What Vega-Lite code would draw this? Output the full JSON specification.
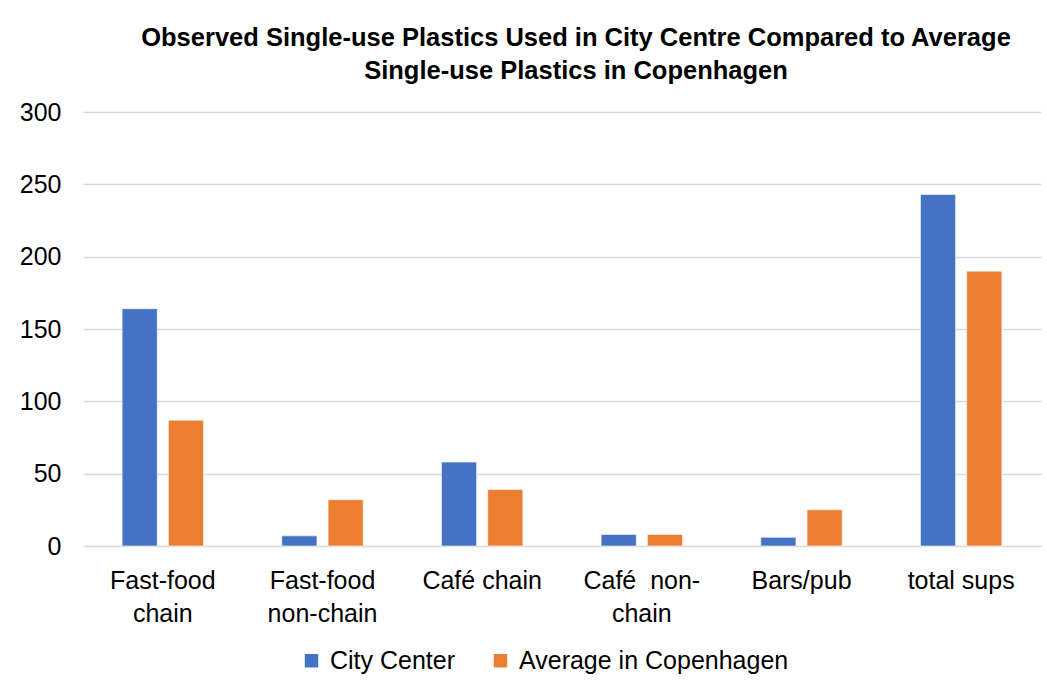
{
  "$schema": "https://vega.github.io/schema/vega-lite/v6.json",
  "width": 958,
  "height": 434,
  "autosize": {"type": "none"},
  "padding": {"left": 83, "top": 112, "right": 6, "bottom": 145},
  "background": "white",
  "title": {
    "text": [
      "Observed Single-use Plastics Used in City Centre Compared to Average",
      "Single-use Plastics in Copenhagen"
    ],
    "font": "Liberation Sans",
    "fontSize": 25.5,
    "fontWeight": "bold",
    "color": "#000000",
    "anchor": "middle",
    "lineHeight": 33,
    "offset": 16,
    "dx": 14
  },
  "data": {
    "values": [
      {"category": "Fast-food chain", "series": "City Center", "value": 164},
      {"category": "Fast-food chain", "series": "Average in Copenhagen", "value": 87},
      {"category": "Fast-food non-chain", "series": "City Center", "value": 7},
      {"category": "Fast-food non-chain", "series": "Average in Copenhagen", "value": 32},
      {"category": "Café chain", "series": "City Center", "value": 58},
      {"category": "Café chain", "series": "Average in Copenhagen", "value": 39},
      {"category": "Café  non-chain", "series": "City Center", "value": 8},
      {"category": "Café  non-chain", "series": "Average in Copenhagen", "value": 8},
      {"category": "Bars/pub", "series": "City Center", "value": 6},
      {"category": "Bars/pub", "series": "Average in Copenhagen", "value": 25},
      {"category": "total sups", "series": "City Center", "value": 243},
      {"category": "total sups", "series": "Average in Copenhagen", "value": 190}
    ]
  },
  "mark": {"type": "bar", "stroke": "#ffffff", "strokeOpacity": 0.6, "strokeWidth": 1},
  "encoding": {
    "x": {
      "field": "category",
      "type": "nominal",
      "sort": ["Fast-food chain", "Fast-food non-chain", "Café chain", "Café  non-chain", "Bars/pub", "total sups"],
      "scale": {"paddingInner": 0.49, "paddingOuter": 0.245},
      "axis": {
        "title": null,
        "labelAngle": 0,
        "labelFont": "Liberation Sans",
        "labelFontSize": 25,
        "labelColor": "#000000",
        "labelLineHeight": 33,
        "labelPadding": 22,
        "labelBaseline": "top",
        "labelLimit": 300,
        "ticks": false,
        "domain": false,
        "labelExpr": "datum.label == 'Fast-food chain' ? ['Fast-food', 'chain'] : datum.label == 'Fast-food non-chain' ? ['Fast-food', 'non-chain'] : datum.label == 'Café  non-chain' ? ['Café\u00a0 non-', 'chain'] : datum.label"
      }
    },
    "xOffset": {
      "field": "series",
      "type": "nominal",
      "sort": ["City Center", "Average in Copenhagen"],
      "scale": {"paddingInner": 0.24}
    },
    "y": {
      "field": "value",
      "type": "quantitative",
      "scale": {"domain": [0, 300], "nice": false},
      "axis": {
        "title": null,
        "values": [0, 50, 100, 150, 200, 250, 300],
        "grid": true,
        "gridColor": "#d9d9d9",
        "gridWidth": 1.5,
        "domain": false,
        "ticks": false,
        "labelFont": "Liberation Sans",
        "labelFontSize": 25,
        "labelColor": "#000000",
        "labelPadding": 22
      }
    },
    "color": {
      "field": "series",
      "type": "nominal",
      "sort": ["City Center", "Average in Copenhagen"],
      "scale": {"domain": ["City Center", "Average in Copenhagen"], "range": ["#4472C4", "#ED7D31"]},
      "legend": {
        "title": null,
        "orient": "none",
        "direction": "horizontal",
        "legendX": 216,
        "legendY": 536,
        "symbolType": "square",
        "symbolSize": 180,
        "symbolStrokeWidth": 0,
        "labelFont": "Liberation Sans",
        "labelFontSize": 25,
        "labelColor": "#000000",
        "labelOffset": 6,
        "labelLimit": 400,
        "columnPadding": 32
      }
    }
  },
  "config": {"view": {"stroke": null}}
}
